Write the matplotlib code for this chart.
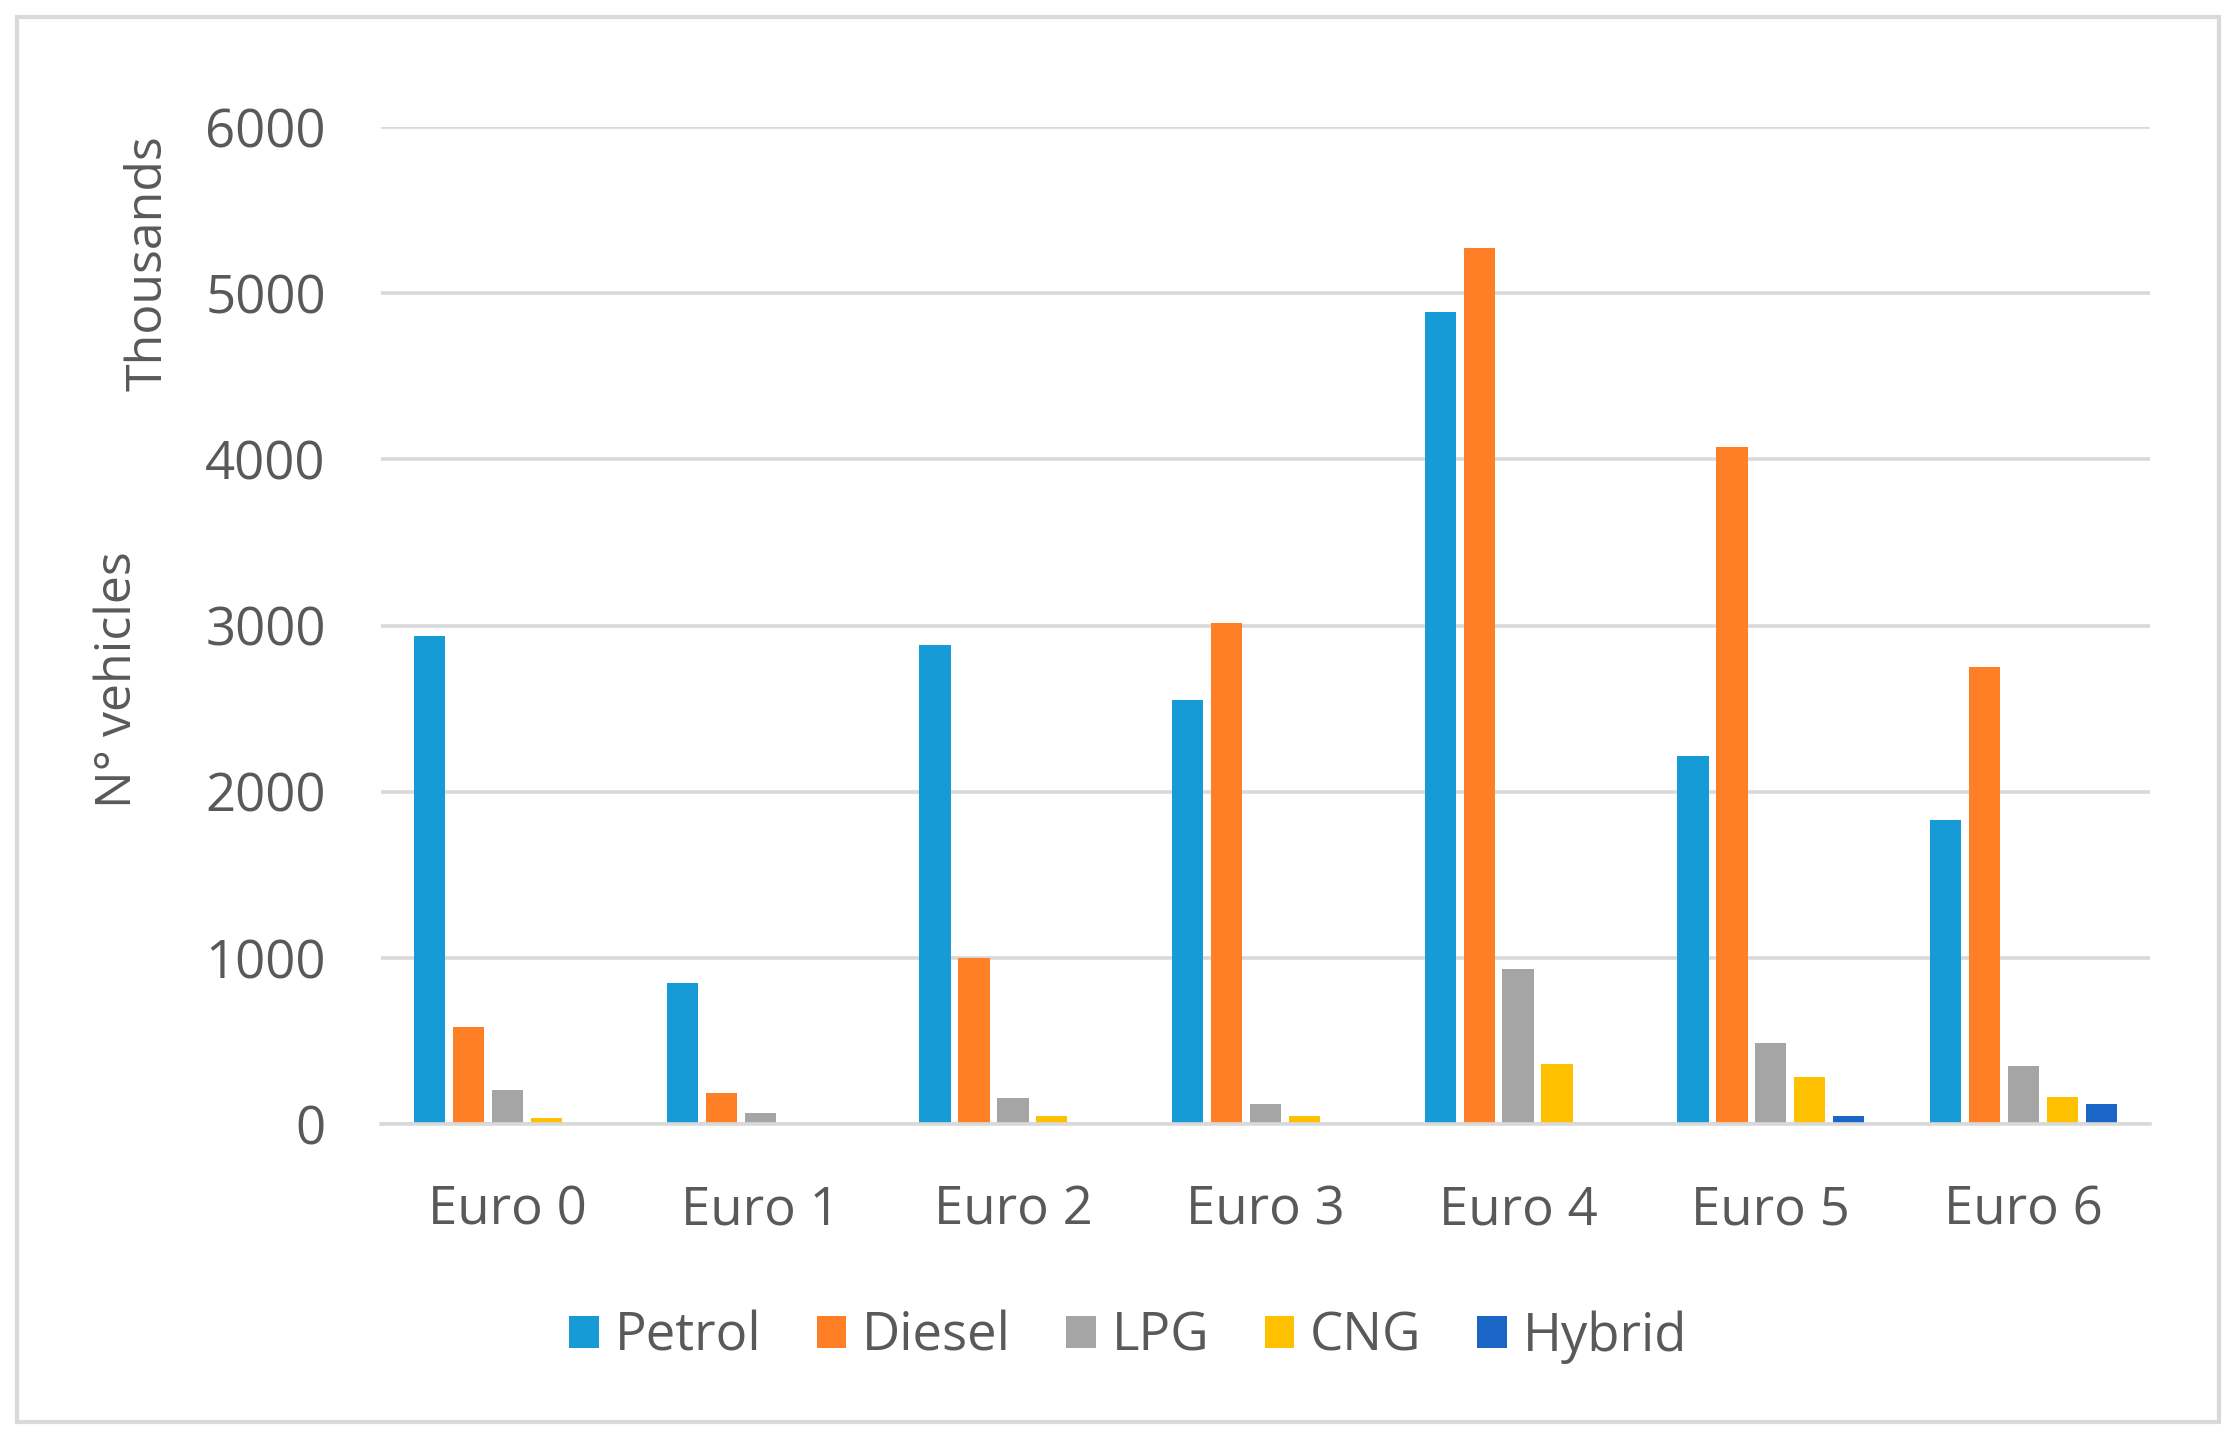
import matplotlib
matplotlib.use("Agg")
import matplotlib.pyplot as plt
import numpy as np
from matplotlib.patches import Rectangle

# values (thousands of vehicles)
categories = ["Euro 0", "Euro 1", "Euro 2", "Euro 3", "Euro 4", "Euro 5", "Euro 6"]
petrol = [2940, 848, 2885, 2551, 4889, 2217, 1832]
diesel = [582, 188, 1002, 3014, 5274, 4075, 2748]
lpg = [205, 68, 154, 120, 933, 488, 351]
cng = [34, 5, 51, 51, 360, 283, 163]
hybrid = [0, 0, 0, 0, 0, 51, 120]

series_names = ["Petrol", "Diesel", "LPG", "CNG", "Hybrid"]
series_vals = [petrol, diesel, lpg, cng, hybrid]
colors = ["#169BD7", "#FF7F27", "#A5A5A5", "#FFC000", "#1A66C6"]

text_col = "#595959"
grid_col = "#D9D9D9"

plt.rcParams["font.family"] = ["Open Sans", "DejaVu Sans"]

fig = plt.figure(figsize=(22.3, 14.44), dpi=100)
ax = fig.add_axes([0.171, 0.2216, 0.793, 0.6904])

x = np.arange(len(categories))
step = 0.154
width = 0.124
for i, (name, vals, c) in enumerate(zip(series_names, series_vals, colors)):
    ax.bar(x + (i - 2) * step, vals, width=width, color=c, label=name, zorder=3)

ax.set_xlim(-0.5, len(categories) - 0.5)
ax.set_ylim(0, 6000)
ax.set_yticks(np.arange(0, 6001, 1000))
ax.set_xticks(x)
ax.set_xticklabels(categories)
ax.yaxis.grid(True, color=grid_col, linewidth=2.6, zorder=0)
ax.set_axisbelow(True)
for side in ["top", "right", "left"]:
    ax.spines[side].set_visible(False)
ax.spines["bottom"].set_color(grid_col)
ax.spines["bottom"].set_linewidth(2.6)
ax.spines["bottom"].set_zorder(4)
ax.tick_params(axis="both", length=0, labelsize=38, colors=text_col)
ax.tick_params(axis="y", pad=40)
ax.tick_params(axis="x", pad=43)

fig.text(118 / 2230, 1 - 680 / 1444, "N° vehicles", rotation=90, fontsize=36,
         color=text_col, ha="center", va="center")
fig.text(149 / 2230, 1 - 263 / 1444, "Thousands", rotation=90, fontsize=36,
         color=text_col, ha="center", va="center")

leg = fig.legend(loc="center", bbox_to_anchor=(1128 / 2230, 1 - 1337 / 1444), ncol=5,
                 frameon=False, fontsize=38, handlelength=0.56, handleheight=0.56,
                 handletextpad=0.3, columnspacing=1.05)
for t in leg.get_texts():
    t.set_color(text_col)

# outer chart frame
fig.patches.append(Rectangle((17 / 2230, 1 - 1422 / 1444), (2219 - 17) / 2230, (1422 - 17) / 1444,
                             transform=fig.transFigure, fill=False, edgecolor=grid_col,
                             linewidth=3, zorder=0))

fig.savefig("out.png", dpi=100, facecolor="white")
